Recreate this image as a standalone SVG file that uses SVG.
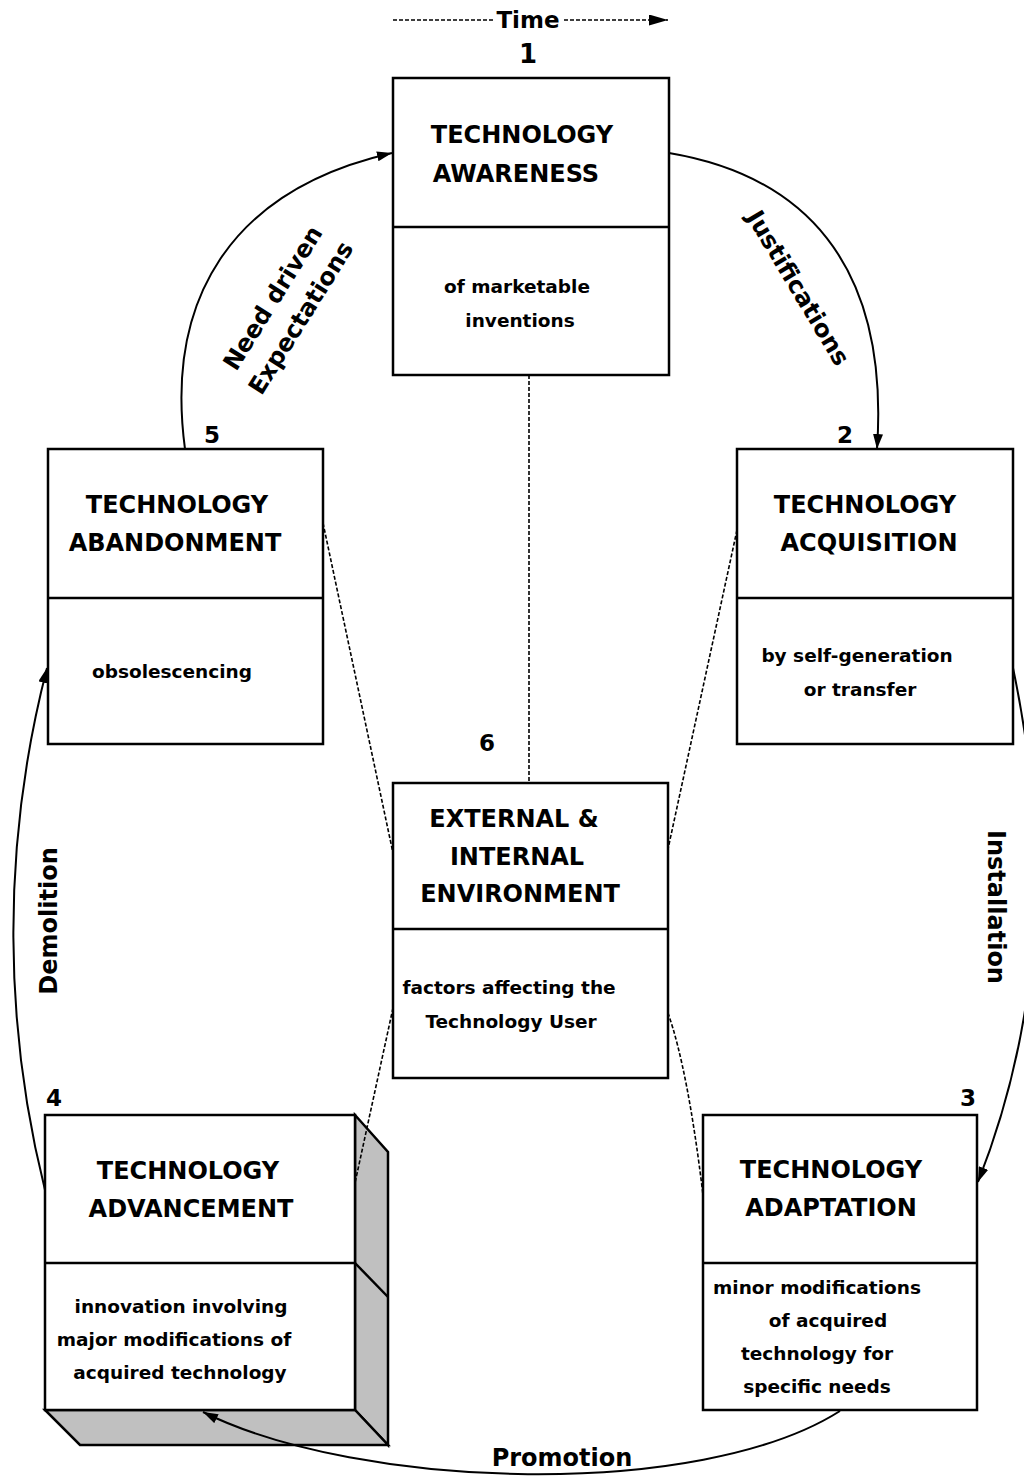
<svg xmlns="http://www.w3.org/2000/svg" width="1024" height="1484" viewBox="0 0 1024 1484">
<style>
text{font-family:"DejaVu Sans","Liberation Sans",sans-serif;font-weight:bold;fill:#000}
.t{font-size:24px;text-anchor:middle}
.s{font-size:18.5px;text-anchor:middle}
.n{font-size:23px;text-anchor:middle}
.l{font-size:24px;text-anchor:middle}
.box{fill:#fff;stroke:#000;stroke-width:2.5}
.div{stroke:#000;stroke-width:2.5}
.side{fill:#c0c0c0;stroke:#000;stroke-width:2.5;stroke-linejoin:miter}
.arc{fill:none;stroke:#000;stroke-width:2}
.dash{fill:none;stroke:#000;stroke-width:1.6;stroke-dasharray:4 2}
</style>
<defs>
<marker id="ah" viewBox="0 0 15 10" refX="15" refY="5" markerWidth="15" markerHeight="10" markerUnits="userSpaceOnUse" orient="auto">
<path d="M0,0 L15,5 L0,10 Z" fill="#000"/>
</marker>
<marker id="ahT" viewBox="0 0 19 11" refX="19" refY="5.5" markerWidth="19" markerHeight="11" markerUnits="userSpaceOnUse" orient="auto">
<path d="M0,0 L19,5.5 L0,11 Z" fill="#000"/>
</marker>
</defs>
<rect width="1024" height="1484" fill="#fff"/>

<g id="time">
<line x1="393" y1="20" x2="494" y2="20" class="dash"/>
<text x="528" y="28" style="font-size:23px;text-anchor:middle">Time</text>
<line x1="564" y1="20" x2="668" y2="20" class="dash" marker-end="url(#ahT)"/>
</g>

<g id="node1">
<rect x="393" y="78" width="276" height="297" class="box"/>
<line x1="393" y1="227" x2="669" y2="227" class="div"/>
<text x="528" y="63" style="font-size:26px;text-anchor:middle">1</text>
<text x="522" y="143" class="t">TECHNOLOGY</text>
<text x="516" y="182" class="t">AWARENESS</text>
<text x="517" y="293" class="s">of marketable</text>
<text x="520" y="327" class="s">inventions</text>
</g>

<g id="node2">
<rect x="737" y="449" width="276" height="295" class="box"/>
<line x1="737" y1="598" x2="1013" y2="598" class="div"/>
<text x="845" y="443" class="n">2</text>
<text x="865" y="513" class="t">TECHNOLOGY</text>
<text x="869" y="551" class="t">ACQUISITION</text>
<text x="857" y="662" class="s">by self-generation</text>
<text x="860" y="696" class="s">or transfer</text>
</g>

<g id="node5">
<rect x="48" y="449" width="275" height="295" class="box"/>
<line x1="48" y1="598" x2="323" y2="598" class="div"/>
<text x="212" y="443" class="n">5</text>
<text x="177" y="513" class="t">TECHNOLOGY</text>
<text x="175" y="551" class="t">ABANDONMENT</text>
<text x="172" y="678" class="s">obsolescencing</text>
</g>

<g id="node6">
<rect x="393" y="783" width="275" height="295" class="box"/>
<line x1="393" y1="929" x2="668" y2="929" class="div"/>
<text x="487" y="751" class="n">6</text>
<text x="514" y="827" class="t">EXTERNAL &amp;</text>
<text x="517" y="865" class="t">INTERNAL</text>
<text x="520" y="902" class="t">ENVIRONMENT</text>
<text x="509" y="994" class="s">factors affecting the</text>
<text x="511" y="1028" class="s">Technology User</text>
</g>

<g id="node3">
<rect x="703" y="1115" width="274" height="295" class="box"/>
<line x1="703" y1="1263" x2="977" y2="1263" class="div"/>
<text x="968" y="1106" class="n">3</text>
<text x="831" y="1178" class="t">TECHNOLOGY</text>
<text x="831" y="1216" class="t">ADAPTATION</text>
<text x="817" y="1294" class="s">minor modifications</text>
<text x="828" y="1327" class="s">of acquired</text>
<text x="817" y="1360" class="s">technology for</text>
<text x="817" y="1393" class="s">specific needs</text>
</g>

<g id="node4">
<polygon points="355,1115 388,1152 388,1445 355,1410" class="side"/>
<polygon points="45,1410 355,1410 388,1445 80,1445" class="side"/>
<line x1="355" y1="1263" x2="388" y2="1297" class="div"/>
<rect x="45" y="1115" width="310" height="295" class="box"/>
<line x1="45" y1="1263" x2="355" y2="1263" class="div"/>
<text x="54" y="1106" class="n">4</text>
<text x="188" y="1179" class="t">TECHNOLOGY</text>
<text x="191" y="1217" class="t">ADVANCEMENT</text>
<text x="181" y="1313" class="s">innovation involving</text>
<text x="174" y="1346" class="s">major modifications of</text>
<text x="180" y="1379" class="s">acquired technology</text>
</g>

<g id="connectors">
<line x1="529" y1="375" x2="529" y2="783" class="dash"/>
<path d="M323,523 L393,853" class="dash"/>
<path d="M737,530 L668,849" class="dash"/>
<path d="M393,1008 L355,1183" class="dash"/>
<path d="M668,1013 Q688,1070 703,1195" class="dash"/>

<path d="M185,449 C165,300 230,190 392,153" class="arc" marker-end="url(#ah)"/>
<path d="M669,153 C800,175 890,260 877,449" class="arc" marker-end="url(#ah)"/>
<path d="M1013,668 C1045,820 1050,1000 978,1182" class="arc" marker-end="url(#ah)"/>
<path d="M840,1411 C700,1500 360,1490 203,1412" class="arc" marker-end="url(#ah)"/>
<path d="M45,1190 C5,1030 0,850 47,668" class="arc" marker-end="url(#ah)"/>
</g>

<g id="labels">
<text class="l" transform="translate(273,298) rotate(-58)" y="8">Need driven</text>
<text class="l" transform="translate(301,318) rotate(-58)" y="8">Expectations</text>
<text class="l" transform="translate(798,288) rotate(59)" y="8">Justifications</text>
<text class="l" transform="translate(996,907) rotate(90)" y="8">Installation</text>
<text class="l" transform="translate(49,921) rotate(-90)" y="8">Demolition</text>
<text class="l" x="562" y="1466">Promotion</text>
</g>
</svg>
